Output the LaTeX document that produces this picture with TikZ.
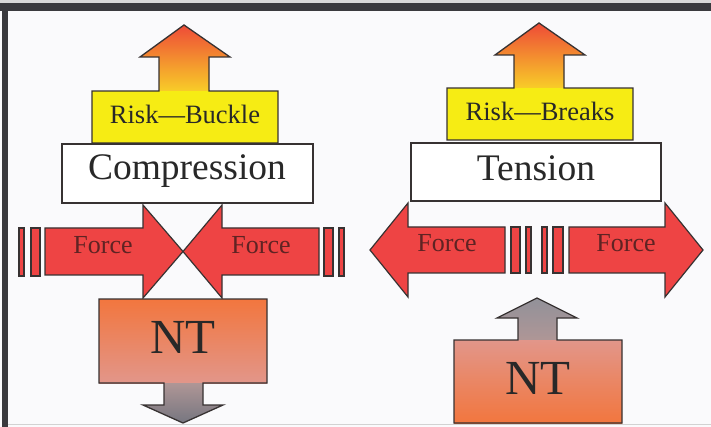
\documentclass[tikz,border=0pt]{standalone}
\usepackage{fontspec}
\setmainfont{Liberation Serif}
\definecolor{bg}{RGB}{250,250,252}
\definecolor{frame}{RGB}{58,58,62}
\definecolor{edge}{RGB}{55,50,50}
\definecolor{yel}{RGB}{246,236,20}
\definecolor{yel2}{RGB}{248,205,40}
\definecolor{org}{RGB}{242,120,60}
\definecolor{redtip}{RGB}{238,75,55}
\definecolor{forcered}{RGB}{238,68,68}
\definecolor{forcetext}{RGB}{95,35,35}
\definecolor{nto}{RGB}{242,118,62}
\definecolor{ntp}{RGB}{226,150,138}
\definecolor{ntg1}{RGB}{175,150,150}
\definecolor{ntg2}{RGB}{118,118,128}
\definecolor{txt}{RGB}{40,40,40}
\tikzset{
  outline/.style={draw=edge,line width=1.3pt,line join=miter},
  forcefill/.style={fill=forcered,draw=edge,line width=1.2pt},
  risktext/.style={font=\fontsize{26.5}{26.5}\selectfont,text=txt,inner sep=0pt},
  bigtext/.style={font=\fontsize{37.5}{37.5}\selectfont,text=txt,inner sep=0pt},
  forcelbl/.style={font=\fontsize{26}{26}\selectfont,text=forcetext,inner sep=0pt},
  nttext/.style={font=\fontsize{49}{49}\selectfont,text=txt,inner sep=0pt},
}
\begin{document}
\begin{tikzpicture}[x=1pt,y=-1pt]
\useasboundingbox (0,0) rectangle (711,427);
\fill[bg] (0,0) rectangle (711,427);
% frame
\fill[gray!30] (0,0) rectangle (711,3);
\fill[frame] (0,3) rectangle (711,11);
\fill[frame] (2,3) rectangle (8,427);
\draw[gray!35,line width=1pt] (8,424) -- (711,424);

% ================= LEFT: compression =================
% top arrow + yellow box
\fill[yel] (92,91) rectangle (278,143);
\shade[top color=redtip,middle color=org,bottom color=yel2]
  (159,91) -- (159,57) -- (140,57) -- (184,25) -- (230,57) -- (209,57) -- (209,91) -- cycle;
\draw[outline] (92,143) -- (92,91) -- (159,91) -- (159,57) -- (140,57) -- (184,25)
  -- (230,57) -- (209,57) -- (209,91) -- (278,91) -- (278,143) -- cycle;
\node[risktext] (riskL) at (185,114) {Risk—Buckle};
% white box
\draw[outline,fill=white] (62,144) rectangle (313,203);
\node[bigtext] (comp) at (187,171) {Compression};
% force arrows
\draw[forcefill] (45,228) -- (143,228) -- (143,205) -- (183,251.5) -- (143,298) -- (143,275) -- (45,275) -- cycle;
\draw[forcefill] (319,228) -- (222,228) -- (222,205) -- (183,251.5) -- (222,298) -- (222,275) -- (319,275) -- cycle;
\draw[forcefill] (19,228) rectangle (24,276);
\draw[forcefill] (31,228) rectangle (40,276);
\draw[forcefill] (324,228) rectangle (333,276);
\draw[forcefill] (339,228) rectangle (344,276);
\node[forcelbl] (forceL1) at (103,245) {Force};
\node[forcelbl] (forceL2) at (261,245) {Force};
% NT box with down arrow
\shade[top color=nto,middle color=nto!70!ntp,bottom color=ntp] (99,299) rectangle (267,383);
\shade[top color=ntg1,bottom color=ntg2]
  (164,383) -- (164,405) -- (143,405) -- (183,423) -- (223,405) -- (203,405) -- (203,383) -- cycle;
\draw[outline] (99,299) -- (267,299) -- (267,383) -- (203,383) -- (203,405) -- (223,405)
  -- (183,423) -- (143,405) -- (164,405) -- (164,383) -- (99,383) -- cycle;
\node[nttext] (ntL) at (183,337) {NT};

% ================= RIGHT: tension =================
\fill[yel] (447,88) rectangle (633,140);
\shade[top color=redtip,middle color=org,bottom color=yel2]
  (514,88) -- (514,55) -- (495,55) -- (539,23) -- (585,55) -- (564,55) -- (564,88) -- cycle;
\draw[outline] (447,140) -- (447,88) -- (514,88) -- (514,55) -- (495,55) -- (539,23)
  -- (585,55) -- (564,55) -- (564,88) -- (633,88) -- (633,140) -- cycle;
\node[risktext] (riskR) at (540,111) {Risk—Breaks};
\draw[outline,fill=white] (411,143) rectangle (661,201);
\node[bigtext] (tens) at (536,168) {Tension};
% force arrows
\draw[forcefill] (505,227) -- (408,227) -- (408,203) -- (370,250) -- (408,297) -- (408,273) -- (505,273) -- cycle;
\draw[forcefill] (569,227) -- (665,227) -- (665,203) -- (703,250) -- (665,297) -- (665,273) -- (569,273) -- cycle;
\draw[forcefill] (511,227) rectangle (520,273);
\draw[forcefill] (526,227) rectangle (531,273);
\draw[forcefill] (542,227) rectangle (547,273);
\draw[forcefill] (553,227) rectangle (563,273);
\node[forcelbl] (forceR1) at (447,243) {Force};
\node[forcelbl] (forceR2) at (626,243) {Force};
% NT box with up arrow
\shade[top color=ntg2!80!white,bottom color=ntg1]
  (518,340) -- (518,318) -- (497,318) -- (537,298) -- (577,318) -- (557,318) -- (557,340) -- cycle;
\shade[top color=ntp,middle color=nto!80!ntp,bottom color=nto] (454,340) rectangle (622,423);
\draw[outline] (454,423) -- (454,340) -- (518,340) -- (518,318) -- (497,318) -- (537,298)
  -- (577,318) -- (557,318) -- (557,340) -- (622,340) -- (622,423) -- cycle;
\node[nttext] (ntR) at (538,378) {NT};
\end{tikzpicture}
\end{document}
